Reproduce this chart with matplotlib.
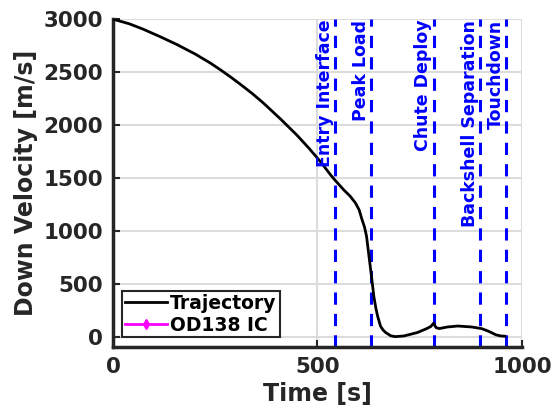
"""Down velocity vs time with EDL event markers."""

import matplotlib

matplotlib.use("Agg")
import matplotlib.pyplot as plt  # noqa: E402

# trajectory
TIME = [0, 40, 74, 115, 156, 200, 238, 262, 287, 311, 340, 368, 410, 450,
        480, 507, 532, 541, 564, 580, 593, 602, 609, 615, 620, 626, 632, 638,
        643, 647, 654, 660, 667, 679, 690, 711, 744, 765, 777, 784, 790, 798,
        818, 843, 877, 901, 917, 937, 949, 958]
VEL = [3000, 2956, 2905, 2835, 2761, 2673, 2586, 2524, 2456, 2387, 2300,
       2208, 2057, 1905, 1779, 1657, 1532, 1490, 1391, 1330, 1266, 1200, 1109,
       1040, 952, 764, 576, 380, 270, 200, 106, 70, 44, 14, 6, 12, 44, 78, 101,
       132, 91, 82, 97, 106, 97, 82, 59, 22, 12, 10]

EVENT_NAMES = ["Entry Interface", "Peak Load", "Chute Deploy",
               "Backshell Separation", "Touchdown"]
EVENT_TIMES = [544, 632, 784, 898, 961]

DARK = "#262626"

fig = plt.figure(figsize=(5.57, 4.08), dpi=100)
ax = fig.add_axes([0.203, 0.150, 0.734, 0.803])

ax.plot(TIME, VEL, color="black", linewidth=2, label="Trajectory", zorder=3)
ax.plot([], [], color="magenta", linewidth=2, marker="d", markersize=5,
        label="OD138 IC")

for name, t in zip(EVENT_NAMES, EVENT_TIMES):
    ax.axvline(t, color="blue", linestyle=(0, (4, 3)), linewidth=2.2, zorder=2)
    ax.text(t - 3, 2995, name, rotation=90, ha="right", va="top",
            color="blue", fontsize=12.5, fontweight="bold")

ax.set_xlim(0, 1000)
ax.set_ylim(-90, 3000)
ax.set_xticks([0, 500, 1000])
ax.set_yticks([0, 500, 1000, 1500, 2000, 2500, 3000])
ax.grid(True, color="#dcdcdc", linewidth=1.5)
ax.set_axisbelow(True)

for side in ("top", "right"):
    ax.spines[side].set_visible(False)
for side in ("left", "bottom"):
    ax.spines[side].set_color(DARK)
    ax.spines[side].set_linewidth(2.5)

ax.tick_params(direction="in", length=5, width=1.5, colors=DARK,
               labelsize=15.5, pad=7)
for lbl in ax.get_xticklabels() + ax.get_yticklabels():
    lbl.set_fontweight("bold")

ax.set_xlabel("Time [s]", fontsize=17, fontweight="bold", color=DARK,
              labelpad=4)
ax.set_ylabel("Down Velocity [m/s]", fontsize=17, fontweight="bold",
              color=DARK, labelpad=4)

leg = ax.legend(loc="lower left", fancybox=False, framealpha=1,
                edgecolor=DARK, prop={"weight": "bold", "size": 13.5},
                borderpad=0.15, handlelength=2.2, handletextpad=0.2,
                labelspacing=0.15, borderaxespad=0.5)
leg.get_frame().set_linewidth(1.5)

fig.savefig("out.png", dpi=100)
